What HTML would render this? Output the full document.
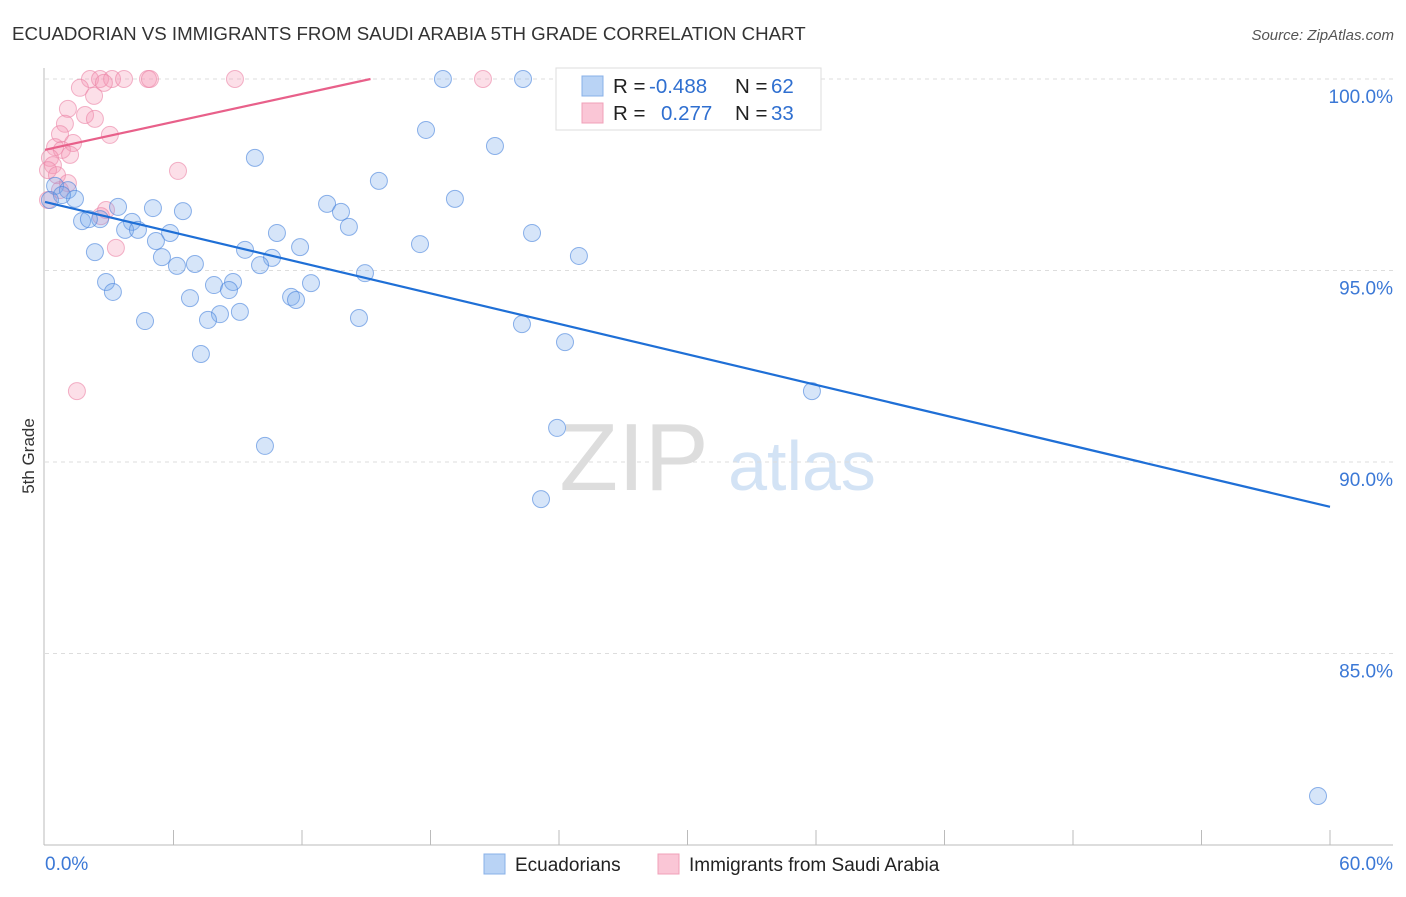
<!DOCTYPE html>
<html><head><meta charset="utf-8"><style>
body{margin:0;background:#fff;font-family:"Liberation Sans",sans-serif}
svg text{font-family:"Liberation Sans",sans-serif}
</style></head><body>
<svg id="chart" width="1406" height="892" viewBox="0 0 1406 892">
<text x="12" y="40" font-size="18.7" fill="#333">ECUADORIAN VS IMMIGRANTS FROM SAUDI ARABIA 5TH GRADE CORRELATION CHART</text>
<text x="1394" y="40" font-size="15" fill="#555" font-style="italic" text-anchor="end">Source: ZipAtlas.com</text>
<text transform="translate(34,456) rotate(-90)" font-size="17" fill="#333" text-anchor="middle">5th Grade</text>
<g>
<text x="634" y="490" font-size="96" fill="#ddd" font-family="Liberation Serif,serif" text-anchor="middle">ZIP</text>
<text x="802" y="490" font-size="70" fill="#d3e3f5" text-anchor="middle">atlas</text>
</g>
<g id="grid"></g><g id="axes"></g><g id="marks"></g>
<g>
<rect x="556" y="68" width="265" height="62" fill="#fff" stroke="#ddd"/>
<rect x="582" y="76" width="21" height="20" fill="#b9d3f5" stroke="#88b0e8"/>
<rect x="582" y="103" width="21" height="20" fill="#fac6d6" stroke="#f0a0b8"/>
<text x="613" y="93" font-size="20.5" fill="#222">R = <tspan x="649" fill="#2f6fd0">-0.488</tspan></text>
<text x="735" y="93" font-size="20.5" fill="#222">N = <tspan x="771" fill="#2f6fd0">62</tspan></text>
<text x="613" y="120" font-size="20.5" fill="#222">R = <tspan x="661" fill="#2f6fd0">0.277</tspan></text>
<text x="735" y="120" font-size="20.5" fill="#222">N = <tspan x="771" fill="#2f6fd0">33</tspan></text>
</g>
<g>
<rect x="484" y="854" width="21" height="20" fill="#b9d3f5" stroke="#88b0e8"/>
<text x="515" y="871" font-size="19" fill="#222">Ecuadorians</text>
<rect x="658" y="854" width="21" height="20" fill="#fac6d6" stroke="#f0a0b8"/>
<text x="689" y="871" font-size="19" fill="#222">Immigrants from Saudi Arabia</text>
</g>
</svg>
<script>
const yTicks=[100,95,90,85];
const xTickLabels=["0.0%","60.0%"];
const blueX=[18.58,22.32,26.61,17.79,21.01,9.80,15.59,19.14,13.17,13.82,14.19,10.83,22.74,17.51,11.91,24.93,14.94,9.34,10.60,10.04,12.42,8.78,7.89,8.59,11.49,11.72,6.77,9.10,8.17,7.61,14.66,4.67,22.27,24.28,7.28,35.81,10.27,23.91,23.16,59.44,0.47,1.07,1.40,0.79,0.23,3.41,5.04,6.44,1.73,2.57,2.05,4.06,3.74,4.34,5.84,5.18,2.33,5.46,6.16,7.00,2.85,3.17];
const blueY=[100,100,99.58,98.67,98.25,97.94,97.34,96.87,96.74,96.53,96.14,95.98,95.98,95.69,95.61,95.38,94.93,95.54,95.33,95.14,94.67,94.70,94.62,94.49,94.31,94.23,94.28,93.92,93.86,93.71,93.76,93.68,93.60,93.13,92.82,91.85,90.42,90.89,89.03,81.28,97.21,97.10,96.87,96.97,96.84,96.66,96.63,96.55,96.29,96.34,96.34,96.27,96.06,96.06,95.98,95.77,95.48,95.35,95.12,95.17,94.70,94.44];
const pinkX=[2.10,2.57,3.13,3.69,4.81,4.90,8.87,20.45,2.75,1.63,2.29,1.07,1.87,2.33,0.93,3.03,0.70,1.31,0.47,0.79,1.17,0.23,0.37,0.14,0.56,1.07,0.70,0.14,2.85,2.61,6.21,3.31,1.49];
const pinkY=[100,100,100,100,100,100,100,100,99.90,99.77,99.56,99.22,99.06,98.96,98.83,98.54,98.56,98.33,98.22,98.15,98.02,97.94,97.75,97.62,97.49,97.28,97.10,96.84,96.58,96.42,97.60,95.59,91.85];
const blueTrendX=[0,60], blueTrendY=[96.79,88.83];
const pinkTrendX=[0,15.2], pinkTrendY=[98.15,100];
const NS="http://www.w3.org/2000/svg";
const X=v=>45+v/60*1285, Y=v=>79+(100-v)*38.3;
function mk(t,a,p){const e=document.createElementNS(NS,t);for(const k in a)e.setAttribute(k,a[k]);document.getElementById(p).appendChild(e);return e;}
yTicks.forEach(t=>{
 const l=mk('line',{x1:45,x2:1393,y1:Y(t),y2:Y(t),stroke:'#ddd','stroke-dasharray':'4,4'},'grid');
 
 
 const tx=mk('text',{x:1393,y:Y(t)+24,'font-size':19,fill:'#3b78d6','text-anchor':'end'},'grid');
 tx.textContent=t.toFixed(1)+'%';
 
 
});
mk('line',{x1:44,x2:44,y1:68,y2:845,stroke:'#bbb'},'axes');
mk('line',{x1:44,x2:1393,y1:845,y2:845,stroke:'#bbb'},'axes');
for(let i=1;i<=10;i++){const l=mk('line',{x1:X(i*6),x2:X(i*6),y1:830,y2:845,stroke:'#bbb'},'axes');
 
 }
const t0=mk('text',{x:45,y:870,'font-size':19,fill:'#3b78d6'},'axes');t0.textContent=xTickLabels[0];

const t1=mk('text',{x:1393,y:870,'font-size':19,fill:'#3b78d6','text-anchor':'end'},'axes');t1.textContent=xTickLabels[1];

pinkX.forEach((x,i)=>{const c=mk('circle',{cx:X(x),cy:Y(pinkY[i]),r:8.5,fill:'rgba(245,150,180,0.3)',stroke:'rgba(235,130,165,0.6)'},'marks');
 
 });
blueX.forEach((x,i)=>{const c=mk('circle',{cx:X(x),cy:Y(blueY[i]),r:8.5,fill:'rgba(120,170,235,0.3)',stroke:'rgba(70,130,220,0.6)'},'marks');
 
 });
const bl=mk('line',{x1:X(blueTrendX[0]),y1:Y(blueTrendY[0]),x2:X(blueTrendX[1]),y2:Y(blueTrendY[1]),stroke:'#1f6fd6','stroke-width':2.2},'marks');


const pl=mk('line',{x1:X(pinkTrendX[0]),y1:Y(pinkTrendY[0]),x2:X(pinkTrendX[1]),y2:Y(pinkTrendY[1]),stroke:'#e8608a','stroke-width':2.2},'marks');


</script>
</body></html>
